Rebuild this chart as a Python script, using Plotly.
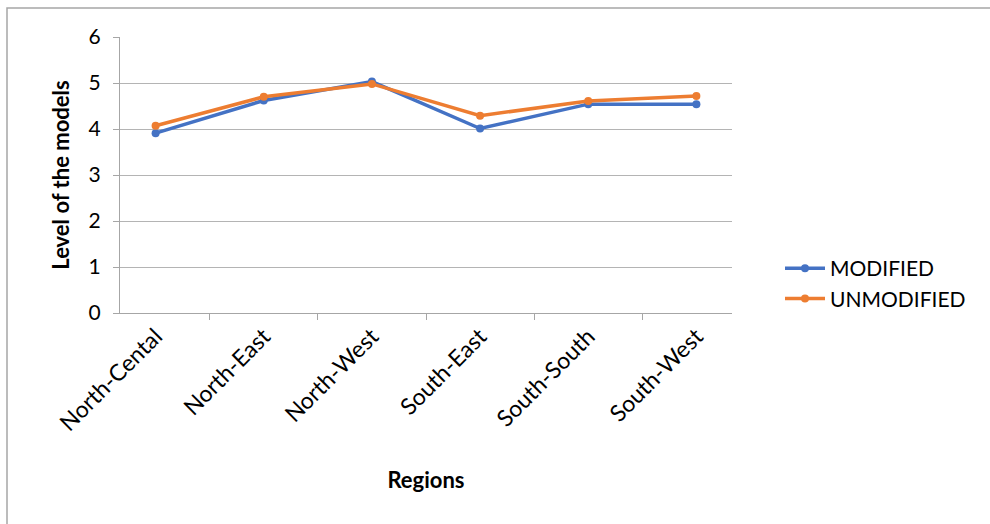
import plotly.graph_objects as go

regions = ["North-Cental", "North-East", "North-West", "South-East", "South-South", "South-West"]
modified = [3.91, 4.62, 5.03, 4.01, 4.54, 4.54]
unmodified = [4.07, 4.70, 4.98, 4.29, 4.61, 4.72]

FONT = "Lato, Open Sans, sans-serif"
L, R, T, B = 120, 732, 37, 313
W, H = 990, 524

def px_x(p):
    return (p - L) / (R - L)

def px_y(p):
    return (B - p) / (B - T)

fig = go.Figure()
fig.add_trace(go.Scatter(x=regions, y=modified, name="MODIFIED", mode="lines+markers",
                         line=dict(color="#4472C4", width=3.5), marker=dict(size=8, color="#4472C4")))
fig.add_trace(go.Scatter(x=regions, y=unmodified, name="UNMODIFIED", mode="lines+markers",
                         line=dict(color="#ED7D31", width=3.5), marker=dict(size=8, color="#ED7D31")))

fig.update_layout(
    width=W, height=H,
    margin=dict(l=L, r=W - R, t=T, b=H - B),
    paper_bgcolor="white", plot_bgcolor="white",
    font=dict(family=FONT, size=20, color="#000000"),
    legend=dict(x=px_x(780), y=px_y(248), xanchor="left", yanchor="top",
                font=dict(size=21), tracegroupgap=0, itemwidth=40),
    xaxis=dict(
        type="category", tickangle=-45, showline=True, linecolor="#a6a6a6", linewidth=1,
        ticks="outside", tickson="boundaries", ticklen=6, tickcolor="#a6a6a6",
        showgrid=False, tickfont=dict(size=23), mirror=False,
        title=dict(text="<b>Regions</b>", font=dict(size=22), standoff=37),
    ),
    yaxis=dict(
        range=[0, 6], dtick=1, showline=True, linecolor="#a6a6a6", linewidth=1,
        ticks="outside", ticklen=6, tickcolor="#a6a6a6", zeroline=False,
        showgrid=True, gridcolor="#b4b4b4", gridwidth=1, tickfont=dict(size=21),
        ticklabelstandoff=8,
        title=dict(text="<b>Level of the models</b>", font=dict(size=22), standoff=12),
    ),
    shapes=[
        dict(type="rect", xref="paper", yref="paper",
             x0=px_x(7), x1=px_x(1000), y0=px_y(540), y1=px_y(8),
             line=dict(color="#a6a6a6", width=1.5), fillcolor="rgba(0,0,0,0)", layer="below"),
    ],
)

fig.write_html("out.html")
